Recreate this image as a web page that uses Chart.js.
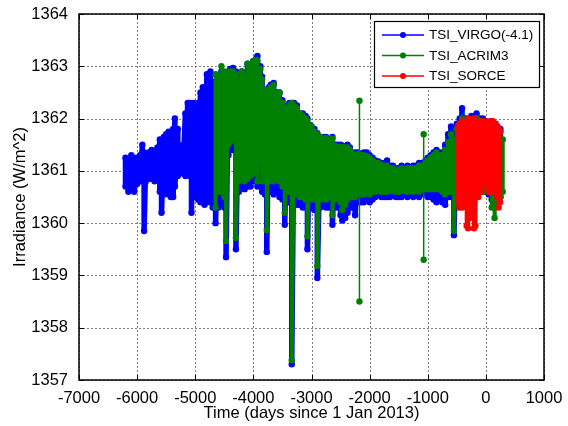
<!DOCTYPE html>
<html>
<head>
<meta charset="utf-8">
<script src="https://cdn.jsdelivr.net/npm/chart.js@4"></script>
<style>
  body { margin: 0; background: #fff; }
  #wrap { width: 568px; height: 426px; }
</style>
</head>
<body>
<div id="wrap"><canvas id="graficoTsi" width="568" height="426"></canvas></div>
<script>
// valores: para cada dia, o topo e o fundo da faixa de pontos
const virgoDays = [
  -6200,-6150,-6100,-6050,-6000,-5950,-5910,-5880,-5850,-5800,
  -5750,-5700,-5650,-5610,-5580,-5540,-5500,-5460,-5420,-5380,
  -5350,-5300,-5250,-5210,-5170,-5130,-5090,-5065,-5030,-4990,
  -4950,-4910,-4870,-4840,-4800,-4760,-4740,-4700,
  -4650,-4600,-4550,-4500,-4470,-4430,-4400,-4350,-4300,-4250,
  -4200,-4150,-4100,-4050,-4000,-3950,-3930,-3880,-3850,-3800,
  -3770,-3730,-3700,-3650,-3600,-3550,-3500,-3460,-3420,-3380,
  -3340,-3300,-3250,-3200,-3150,-3100,-3070,-3030,-3000,-2950,
  -2900,-2850,-2800,-2750,-2700,-2640,-2600,-2550,-2500,-2470,
  -2420,-2380,-2340,-2300,-2250,-2200,-2150,-2100,-2050,-2000,
  -1950,-1900,-1850,-1800,-1750,-1700,-1650,-1600,-1550,-1500,
  -1450,-1400,-1350,-1300,-1250,-1200,-1150,-1100,-1040,-1000,
  -950,-900,-850,-800,-750,-700,-650,-600,-550,-500,
  -450,-410,-350,-300,-250,-200,-160,-100,-50,0,
  50,100,150,200,250
]
const virgoHigh = [
  1361.25,1361.2,1361.3,1361.25,1361.25,1361.3,1361.5,1361.35,1361.3,1361.35,
  1361.4,1361.35,1361.45,1361.6,1361.55,1361.65,1361.7,1361.75,1361.7,1361.8,
  1362.0,1361.8,1361.45,1361.5,1362.1,1362.3,1362.3,1362.25,1362.3,1362.25,
  1362.3,1362.5,1362.6,1362.55,1362.85,1362.8,1362.9,1362.7,
  1362.7,1362.75,1362.9,1362.85,1362.8,1362.9,1362.95,1362.97,1362.9,1362.8,
  1362.9,1362.85,1363.05,1363.0,1363.1,1363.15,1363.2,1363.0,1362.8,1362.55,
  1362.55,1362.6,1362.65,1362.68,1362.5,1362.5,1362.35,1362.2,1362.25,1362.3,
  1362.3,1362.3,1362.25,1362.1,1362.1,1362.05,1362.0,1361.88,1361.85,1361.8,
  1361.72,1361.65,1361.65,1361.65,1361.6,1361.65,1361.5,1361.5,1361.5,1361.48,
  1361.45,1361.5,1361.45,1361.35,1361.35,1361.35,1361.3,1361.35,1361.35,1361.3,
  1361.25,1361.2,1361.18,1361.15,1361.15,1361.2,1361.1,1361.1,1361.05,1361.05,
  1361.1,1361.05,1361.1,1361.07,1361.1,1361.1,1361.15,1361.15,1361.2,1361.25,
  1361.3,1361.35,1361.4,1361.35,1361.35,1361.5,1361.7,1361.85,1361.7,1361.9,
  1362.0,1362.2,1362.0,1361.95,1362.05,1362.05,1362.1,1362.0,1362.0,1361.95,
  1361.9,1361.95,1361.9,1361.85,1361.8
]
const virgoLow = [
  1360.7,1360.6,1360.65,1360.6,1360.75,1360.8,1360.8,1359.85,1360.8,1360.85,
  1360.85,1360.8,1360.85,1360.6,1360.2,1360.55,1360.6,1360.55,1360.5,1360.5,
  1360.7,1360.9,1361.0,1360.95,1360.9,1360.95,1360.9,1360.2,1360.7,1360.5,
  1360.45,1360.4,1360.45,1360.35,1360.4,1360.45,1360.4,1360.3,
  1360.0,1360.3,1360.4,1360.3,1359.35,1361.3,1361.4,1361.4,1359.5,1360.6,
  1360.7,1360.65,1360.7,1360.7,1360.8,1361.1,1360.7,1361.1,1360.6,1360.55,
  1359.45,1360.6,1360.6,1360.55,1360.6,1360.5,1360.45,1359.97,1360.4,1360.4,
  1357.3,1360.4,1360.35,1360.35,1360.3,1360.3,1359.5,1360.3,1360.3,1360.25,
  1358.95,1360.3,1360.35,1360.3,1360.3,1359.97,1360.3,1360.3,1360.15,1360.05,
  1360.1,1360.2,1360.3,1360.3,1360.15,1360.4,1360.4,1360.4,1360.45,1360.4,
  1360.45,1360.5,1360.55,1360.5,1360.5,1360.5,1360.5,1360.55,1360.5,1360.5,
  1360.5,1360.55,1360.5,1360.55,1360.5,1360.55,1360.5,1360.55,1360.55,1360.5,
  1360.5,1360.45,1360.4,1360.45,1360.4,1360.35,1360.5,1360.5,1359.77,1360.4,
  1360.5,1360.5,1360.5,1360.6,1360.6,1360.6,1360.6,1360.6,1360.6,1360.6,
  1360.55,1360.45,1360.3,1360.4,1360.5
]

const acrimDays = [
  -4650,-4600,-4550,-4500,-4470,-4430,-4400,-4350,-4300,-4250,
  -4200,-4150,-4100,-4050,-4000,-3950,-3930,-3880,-3850,-3800,
  -3770,-3730,-3700,-3650,-3600,-3550,-3500,-3460,-3420,-3380,
  -3340,-3300,-3250,-3200,-3150,-3100,-3070,-3030,-3000,-2950,
  -2900,-2850,-2800,-2750,-2700,-2640,-2600,-2550,-2500,-2470,
  -2420,-2380,-2340,-2300,-2250,-2200,-2150,-2100,-2050,-2000,
  -1950,-1900,-1850,-1800,-1750,-1700,-1650,-1600,-1550,-1500,
  -1450,-1400,-1350,-1300,-1250,-1200,-1150,-1100,-1040,-1000,
  -950,-900,-850,-800,-750,-700,-650,-600,-550,-500,
  -450,-410,-350,-300,-250,-200,-160,-100,-50,0,
  50,100,150,200,250,290
]
const acrimHigh = [
  1362.85,1362.8,1363.0,1362.9,1362.85,1362.9,1362.9,1362.9,1362.85,1362.75,
  1362.9,1362.8,1363.05,1363.0,1363.1,1363.12,1363.1,1362.95,1362.75,1362.55,
  1362.5,1362.55,1362.6,1362.65,1362.5,1362.5,1362.3,1362.2,1362.2,1362.25,
  1362.3,1362.25,1362.2,1362.1,1362.05,1362.0,1361.95,1361.87,1361.85,1361.75,
  1361.7,1361.65,1361.62,1361.63,1361.58,1361.62,1361.48,1361.46,1361.46,1361.45,
  1361.45,1361.45,1361.4,1361.34,1361.3,1361.32,1361.3,1361.3,1361.28,1361.25,
  1361.2,1361.15,1361.15,1361.12,1361.1,1361.1,1361.05,1361.05,1361.0,1361.02,
  1361.05,1361.0,1361.05,1361.05,1361.05,1361.05,1361.1,1361.1,1361.15,1361.2,
  1361.25,1361.3,1361.35,1361.3,1361.3,1361.4,1361.55,1361.7,1361.6,1361.8,
  1361.9,1362.0,1361.95,1361.9,1361.95,1361.95,1362.0,1361.95,1361.9,1361.9,
  1361.85,1361.85,1361.8,1361.8,1361.75,1361.6
]
const acrimLow = [
  1360.3,1360.6,1360.6,1360.5,1359.66,1361.5,1361.55,1361.6,1359.72,1360.8,
  1360.85,1360.8,1360.85,1360.9,1360.95,1361.2,1360.8,1361.2,1360.8,1360.8,
  1359.87,1360.8,1360.85,1360.8,1360.85,1360.8,1360.7,1360.2,1360.6,1360.6,
  1357.38,1360.6,1360.55,1360.5,1360.5,1360.45,1359.75,1360.45,1360.5,1360.45,
  1359.18,1360.45,1360.5,1360.45,1360.5,1360.15,1360.45,1360.5,1360.4,1360.25,
  1360.35,1360.45,1360.5,1360.5,1360.5,1360.55,1360.55,1360.55,1360.6,1360.55,
  1360.6,1360.6,1360.62,1360.6,1360.6,1360.6,1360.62,1360.62,1360.6,1360.6,
  1360.62,1360.62,1360.6,1360.62,1360.6,1360.65,1360.6,1360.65,1360.65,1360.65,
  1360.65,1360.65,1360.65,1360.65,1360.6,1360.55,1360.6,1360.6,1359.85,1360.5,
  1360.6,1360.6,1360.6,1360.65,1360.6,1360.65,1360.6,1360.65,1360.6,1360.65,
  1360.6,1360.3,1360.1,1360.4,1360.5,1360.6
]
// os dois pontos isolados do ACRIM3
const acrimSpikeDays = [-2175, -1070]
const acrimSpikeHigh = [1362.34, 1361.7]
const acrimSpikeLow = [1358.5, 1359.3]

const sorceDays = [
  -480,-455,-430,-405,-380,-355,-330,-305,-280,-255,
  -230,-205,-180,-155,-130,-105,-80,-55,-30,-5,
  20,45,70,95,120,145,170,195,220,245
]
const sorceHigh = [
  1361.85,1361.9,1361.9,1361.95,1361.9,1361.85,1361.95,1362.0,1361.95,1361.9,
  1361.95,1362.0,1361.95,1361.9,1361.85,1361.9,1361.95,1361.9,1361.95,1361.9,
  1361.85,1361.9,1361.95,1361.9,1361.95,1361.9,1361.9,1361.85,1361.8,1361.75
]
const sorceLow = [
  1360.4,1360.3,1360.35,1360.3,1360.35,1360.5,1359.95,1359.9,1360.1,1360.4,
  1360.2,1359.9,1359.95,1360.55,1360.5,1360.6,1360.6,1360.8,1360.85,1360.8,
  1360.7,1360.6,1360.6,1360.65,1360.65,1360.6,1360.65,1360.5,1360.3,1360.4
]

const xTicks = [-7000,-6000,-5000,-4000,-3000,-2000,-1000,0,1000]
const yTicks = [1357,1358,1359,1360,1361,1362,1363,1364]

const fonte = "'Liberation Sans', Arial, Helvetica, sans-serif"

function montarPontos(dias, alto, baixo){
    var pontos = []
    dias.forEach(function (dia, i){
        pontos.push({x: dia, y: alto[i]})
        pontos.push({x: dia, y: baixo[i]})
    })
    return pontos
}

function serie(nome, pontos, cor, largura, ordem){
    return {
        label: nome,
        data: pontos,
        showLine: true,
        borderColor: cor,
        backgroundColor: cor,
        borderWidth: largura,
        pointRadius: 3.2,
        pointBorderWidth: 0,
        pointBackgroundColor: cor,
        order: ordem
    }
}

var datasets = [
    serie('TSI_VIRGO(-4.1)', montarPontos(virgoDays, virgoHigh, virgoLow), '#0000ff', 5.5, 4),
    serie('TSI_ACRIM3', montarPontos(acrimDays, acrimHigh, acrimLow), '#008000', 4, 3)
]
acrimSpikeDays.forEach(function (dia, i){
    var s = serie('TSI_ACRIM3', montarPontos([dia], [acrimSpikeHigh[i]], [acrimSpikeLow[i]]), '#008000', 1.5, 2)
    s.semLegenda = true
    datasets.push(s)
})
datasets.push(serie('TSI_SORCE', montarPontos(sorceDays, sorceHigh, sorceLow), '#ff0000', 4, 1))

const moldura = {
    id: 'moldura',
    beforeDatasetsDraw(chart){
        const {ctx, chartArea: a, scales: {x, y}} = chart
        ctx.save()
        ctx.strokeStyle = '#7d7d7d'
        ctx.lineWidth = 1
        ctx.setLineDash([2, 2])
        xTicks.forEach(function (t){
            var px = Math.round(x.getPixelForValue(t)) + 0.5
            ctx.beginPath(); ctx.moveTo(px, a.top); ctx.lineTo(px, a.bottom); ctx.stroke()
        })
        yTicks.forEach(function (t){
            var py = Math.round(y.getPixelForValue(t)) + 0.5
            ctx.beginPath(); ctx.moveTo(a.left, py); ctx.lineTo(a.right, py); ctx.stroke()
        })
        ctx.restore()
    },
    afterDraw(chart){
        const {ctx, chartArea: a, scales: {x, y}} = chart
        ctx.save()
        ctx.strokeStyle = '#000'
        ctx.lineWidth = 1.5
        ctx.strokeRect(a.left, a.top, a.right - a.left, a.bottom - a.top)
        ctx.lineWidth = 1
        xTicks.forEach(function (t){
            var px = Math.round(x.getPixelForValue(t)) + 0.5
            ctx.beginPath()
            ctx.moveTo(px, a.bottom); ctx.lineTo(px, a.bottom - 5)
            ctx.moveTo(px, a.top); ctx.lineTo(px, a.top + 5)
            ctx.stroke()
        })
        yTicks.forEach(function (t){
            var py = Math.round(y.getPixelForValue(t)) + 0.5
            ctx.beginPath()
            ctx.moveTo(a.left, py); ctx.lineTo(a.left + 5, py)
            ctx.moveTo(a.right, py); ctx.lineTo(a.right - 5, py)
            ctx.stroke()
        })

        // legenda no estilo do matlab
        var lx = 374.5, ly = 21.5, lw = 165, lh = 66
        ctx.fillStyle = '#fff'
        ctx.fillRect(lx, ly, lw, lh)
        ctx.lineWidth = 1.2
        ctx.strokeRect(lx, ly, lw, lh)
        var itens = chart.data.datasets.filter(d => !d.semLegenda)
        itens.sort((p, q) => q.order - p.order)
        itens.forEach(function (d, i){
            var yy = 35 + i * 20.5
            ctx.strokeStyle = d.borderColor
            ctx.lineWidth = 1.3
            ctx.beginPath(); ctx.moveTo(382, yy); ctx.lineTo(424, yy); ctx.stroke()
            ctx.fillStyle = d.borderColor
            ctx.beginPath(); ctx.arc(403, yy, 3, 0, Math.PI * 2); ctx.fill()
            ctx.fillStyle = '#000'
            ctx.font = '13.5px ' + fonte
            ctx.textBaseline = 'middle'
            ctx.textAlign = 'left'
            ctx.fillText(d.label, 429, yy + 0.5)
        })
        ctx.restore()
    }
}

new Chart(document.getElementById('graficoTsi'), {
    type: 'scatter',
    data: { datasets: datasets },
    options: {
        responsive: false,
        animation: false,
        layout: { padding: { top: 14, right: 24, left: 0, bottom: 0 } },
        plugins: {
            legend: { display: false },
            tooltip: { enabled: false }
        },
        scales: {
            x: {
                type: 'linear',
                min: -7000,
                max: 1000,
                afterBuildTicks: s => { s.ticks = xTicks.map(v => ({value: v})) },
                afterFit: s => { s.height = 46 },
                ticks: { color: '#000', font: { family: fonte, size: 16.5 }, padding: 1, maxRotation: 0, autoSkip: false, callback: v => v },
                grid: { display: false },
                border: { display: false },
                title: { display: true, text: 'Time (days since 1 Jan 2013)', color: '#000', font: { family: fonte, size: 16.5 }, padding: { top: 0, bottom: 3 } }
            },
            y: {
                type: 'linear',
                min: 1357,
                max: 1364,
                afterBuildTicks: s => { s.ticks = yTicks.map(v => ({value: v})) },
                afterFit: s => { s.width = 79 },
                ticks: { color: '#000', font: { family: fonte, size: 16.5 }, padding: 3, callback: v => v },
                grid: { display: false },
                border: { display: false },
                title: { display: true, text: 'Irradiance (W/m^2)', color: '#000', font: { family: fonte, size: 16.5 }, padding: { top: 11, bottom: 0 } }
            }
        }
    },
    plugins: [moldura]
})
</script>
</body>
</html>
